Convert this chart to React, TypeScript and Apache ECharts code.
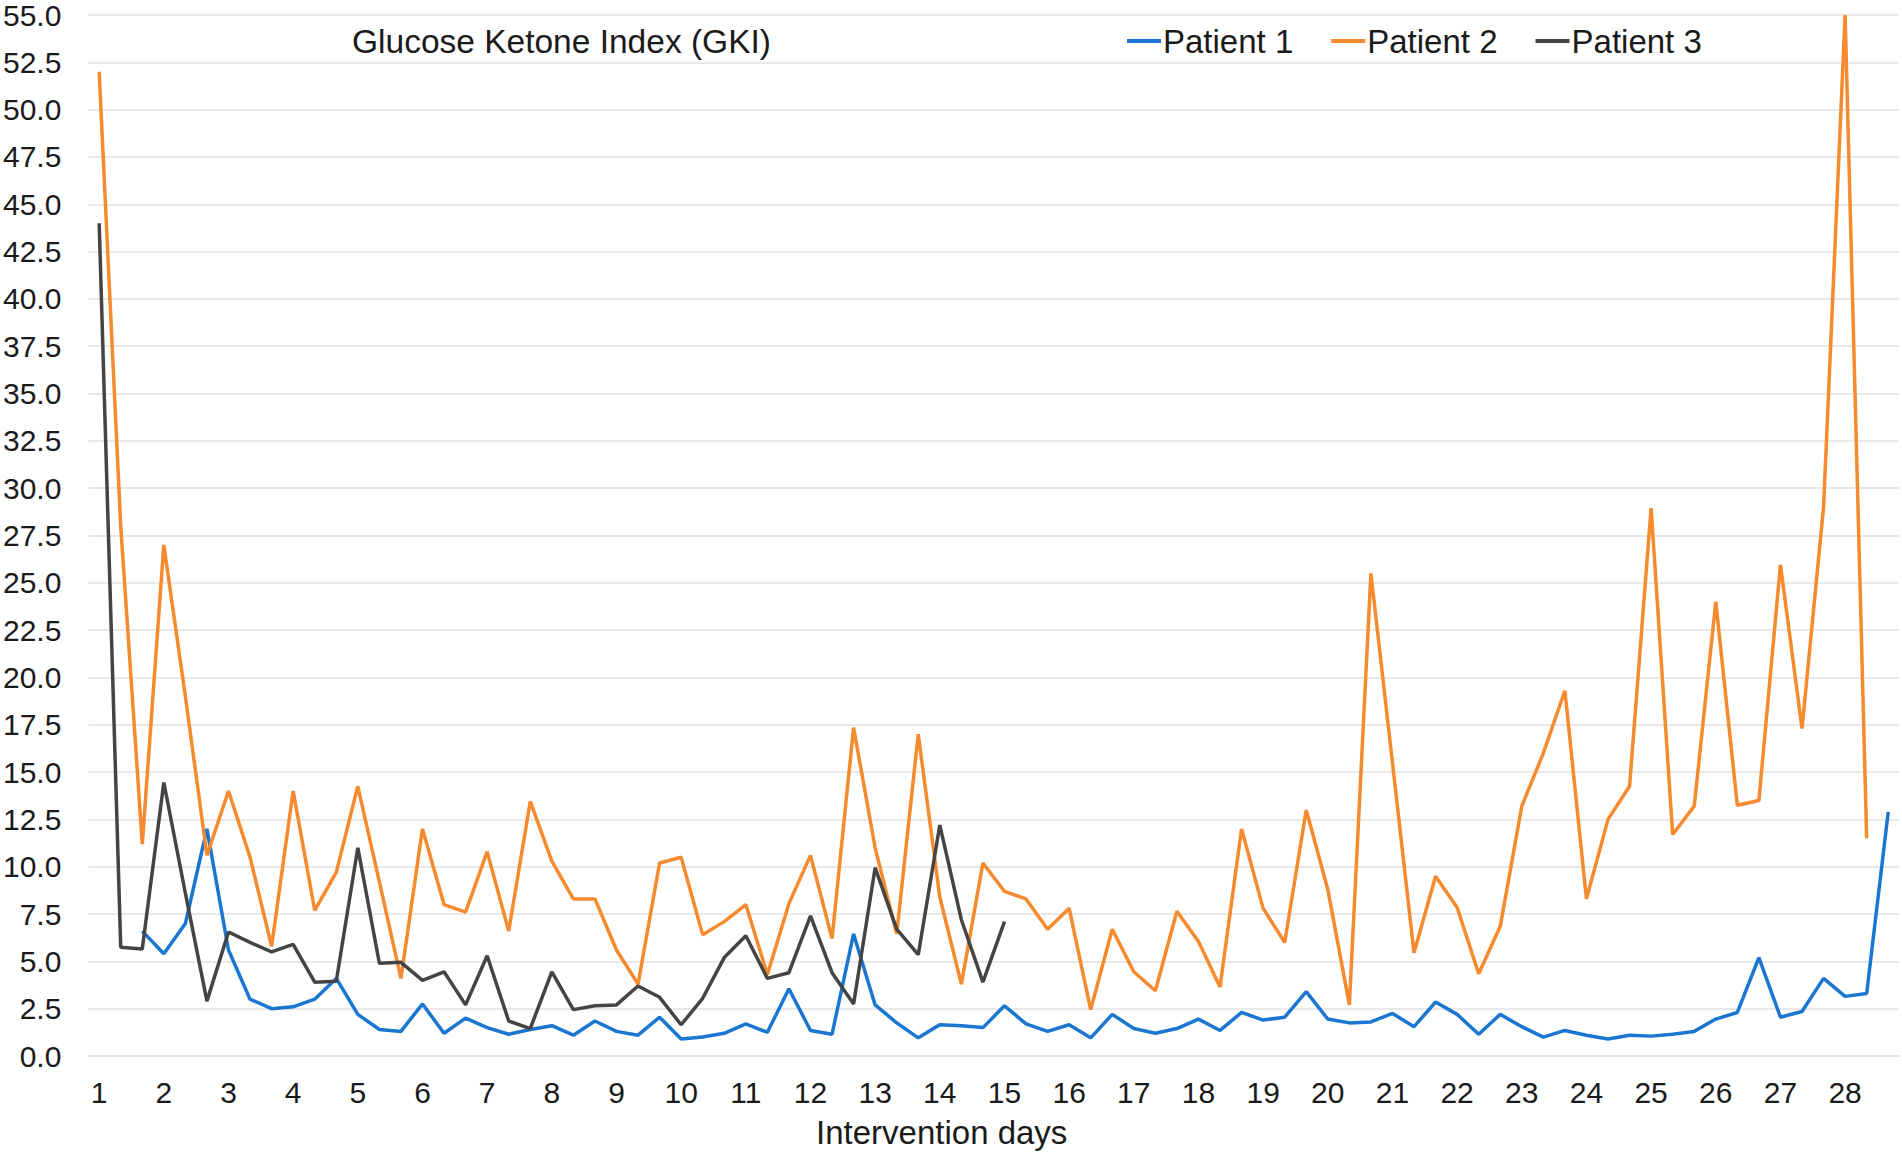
import React, { useEffect, useRef } from "react";
import * as echarts from "echarts";

// Three readings per intervention day, days 1..28 (84 readings)
const dayLabels = [
  "1", "2", "3", "4", "5", "6", "7", "8", "9", "10", "11", "12", "13", "14",
  "15", "16", "17", "18", "19", "20", "21", "22", "23", "24", "25", "26", "27", "28",
];
const readingsPerDay = ["a", "b", "c"];
const categories = dayLabels.flatMap((d) => readingsPerDay.map((r) => `${d}${r}`));

const patient1 = [
  null, null, 6.6, 5.4, 7.0, 12.0, 5.6, 3.0, 2.5, 2.6, 3.0, 4.1,
  2.2, 1.4, 1.3, 2.75, 1.2, 2.0, 1.5, 1.15, 1.4, 1.6, 1.1, 1.85,
  1.3, 1.1, 2.05, 0.9, 1.0, 1.2, 1.7, 1.25, 3.55, 1.35, 1.15, 6.45,
  2.7, 1.75, 0.96, 1.65, 1.6, 1.5, 2.65, 1.7, 1.3, 1.65, 0.96, 2.2,
  1.45, 1.2, 1.45, 1.95, 1.35, 2.3, 1.9, 2.05, 3.4, 1.95, 1.75, 1.8,
  2.25, 1.55, 2.85, 2.2, 1.15, 2.2, 1.55, 1.0, 1.35, 1.1, 0.9, 1.1,
  1.05, 1.15, 1.3, 1.95, 2.3, 5.2, 2.05, 2.35, 4.1, 3.15, 3.3, 12.9,
];

const patient2 = [
  52.0, 28.0, 11.2, 27.0, 19.0, 10.6, 14.0, 10.5, 5.8, 14.0, 7.7, 9.7,
  14.25, 9.2, 4.1, 12.0, 8.0, 7.6, 10.8, 6.6, 13.45, 10.3, 8.3, 8.3,
  5.6, 3.8, 10.2, 10.5, 6.4, 7.1, 8.0, 4.3, 8.05, 10.6, 6.2, 17.35,
  11.0, 6.45, 17.0, 8.4, 3.8, 10.2, 8.7, 8.3, 6.7, 7.8, 2.45, 6.7,
  4.45, 3.45, 7.65, 6.05, 3.65, 12.0, 7.8, 6.0, 13.0, 8.8, 2.7, 25.5,
  15.5, 5.45, 9.5, 7.85, 4.35, 6.85, 13.2, 16.0, 19.3, 8.3, 12.5, 14.25,
  28.95, 11.7, 13.2, 24.0, 13.25, 13.5, 25.95, 17.3, 29.0, 55.0, 11.5, null,
];

const patient3 = [
  44.0, 5.75, 5.65, 14.45, 8.6, 2.9, 6.55, 6.0, 5.5, 5.9, 3.9, 3.95,
  11.0, 4.9, 4.95, 4.0, 4.45, 2.7, 5.3, 1.85, 1.45, 4.45, 2.45, 2.65,
  2.7, 3.7, 3.1, 1.65, 3.05, 5.2, 6.35, 4.1, 4.4, 7.4, 4.4, 2.75,
  9.95, 6.7, 5.35, 12.2, 7.2, 3.9, 7.1, null, null, null, null, null,
  null, null, null, null, null, null, null, null, null, null, null, null,
  null, null, null, null, null, null, null, null, null, null, null, null,
  null, null, null, null, null, null, null, null, null, null, null, null,
];

const seriesNames = ["Patient 1", "Patient 2", "Patient 3"];
const seriesColors = ["#1b76d2", "#f68a2e", "#444444"];

const FONT = '"Liberation Sans", Arial, Helvetica, sans-serif';

export default function App() {
  const ref = useRef<HTMLDivElement>(null);

  useEffect(() => {
    document.body.style.margin = "0";
    if (!ref.current) return;
    const chart = echarts.init(ref.current, null, { renderer: "svg" });
    const allData = [patient1, patient2, patient3];
    chart.setOption({
      animation: false,
      backgroundColor: "#ffffff",
      textStyle: { fontFamily: FONT },
      title: {
        text: "Glucose Ketone Index (GKI)",
        left: 347,
        top: 18,
        textStyle: {
          fontFamily: FONT,
          fontSize: 33.5,
          fontWeight: "normal",
          color: "#1a1a1a",
          lineHeight: 36,
        },
      },
      legend: {
        left: 1122,
        top: 18,
        icon: "rect",
        itemWidth: 34,
        itemHeight: 4,
        itemGap: 38,
        textStyle: {
          fontFamily: FONT,
          fontSize: 33,
          color: "#1a1a1a",
          lineHeight: 36,
          padding: [0, 0, 0, -3],
        },
        data: seriesNames,
      },
      grid: {
        left: 83,
        right: 3,
        top: 15,
        bottom: 95,
        containLabel: false,
      },
      xAxis: {
        type: "category",
        data: categories,
        boundaryGap: true,
        name: "Intervention days",
        nameLocation: "middle",
        nameGap: 60,
        nameTextStyle: {
          fontFamily: FONT,
          fontSize: 33,
          color: "#1a1a1a",
          padding: [0, 104, 0, 0],
        },
        axisLine: { show: true, lineStyle: { color: "#e2e2e2", width: 1.5 } },
        axisTick: { show: false },
        axisLabel: {
          interval: 2,
          margin: 21,
          fontFamily: FONT,
          fontSize: 30,
          color: "#1a1a1a",
          formatter: (_v: string, idx: number) => dayLabels[Math.floor(idx / 3)],
        },
        splitLine: { show: false },
      },
      yAxis: {
        type: "value",
        min: 0,
        max: 55,
        interval: 2.5,
        axisLine: { show: false },
        axisTick: { show: false },
        axisLabel: {
          margin: 27,
          fontFamily: FONT,
          fontSize: 30,
          color: "#1a1a1a",
          formatter: (v: number) => v.toFixed(1),
        },
        splitLine: { show: true, lineStyle: { color: "#e2e2e2", width: 1.5 } },
      },
      series: seriesNames.map((name, i) => ({
        name,
        type: "line",
        data: allData[i],
        symbol: "none",
        connectNulls: false,
        color: seriesColors[i],
        lineStyle: { color: seriesColors[i], width: 3.5 },
      })),
    });
    return () => chart.dispose();
  }, []);

  return <div ref={ref} style={{ width: 1902, height: 1154 }} />;
}
